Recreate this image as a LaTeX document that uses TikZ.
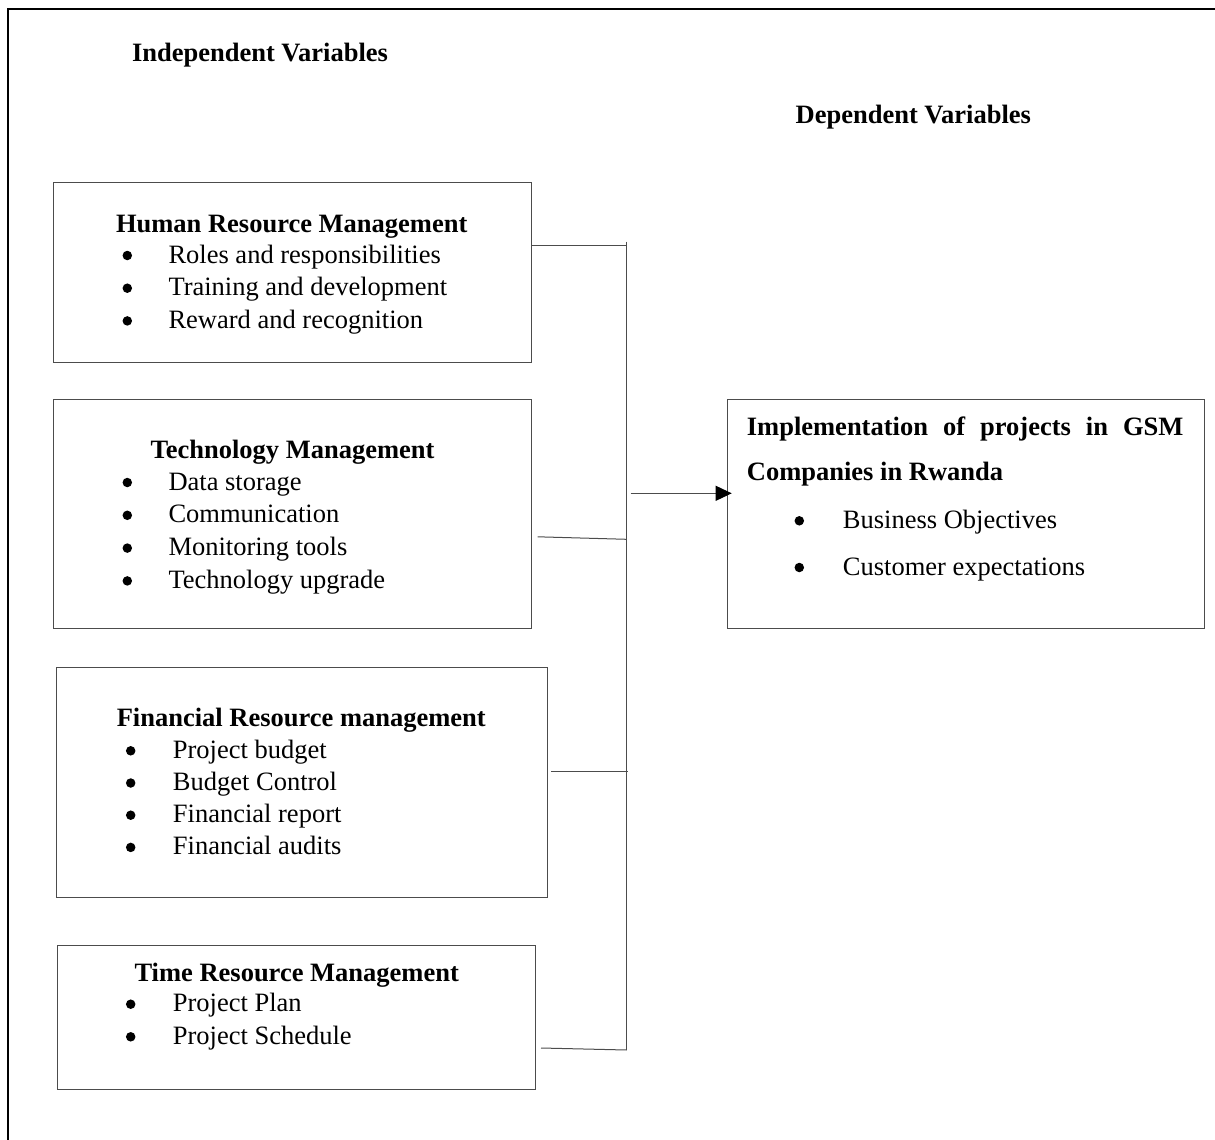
\documentclass[tikz,border=0pt]{standalone}
\usepackage{fontspec}
\setmainfont{Liberation Serif}
\usetikzlibrary{arrows.meta}

\begin{document}
\begin{tikzpicture}[x=1pt,y=-1pt,
  box/.style={draw=black!70,line width=1pt,inner sep=0pt,anchor=north west},
  txt/.style={inner sep=0pt,anchor=base west,font=\fontsize{26.5}{32}\selectfont},
  dot/.style={circle,fill=black,inner sep=0pt,minimum size=9.5pt,yshift=7.5pt},
  head/.style={inner sep=0pt,anchor=base,font=\fontsize{26.5}{32}\selectfont\bfseries},
  wire/.style={draw=black!70,line width=1pt}]
  \useasboundingbox (0,0) rectangle (1215,1140);
  % outer frame (top and left only)
  \draw[line width=2pt] (8,1140) -- (8,9) -- (1215,9);
  \node[head] (indep) at (260,62) {Independent Variables};
  \node[head] (dep) at (913.3,123.3) {Dependent Variables};

  % independent variables
  \node[box,minimum width=478pt,minimum height=180pt] (hr) at (52.7,181.7) {};
  \node[head] (hrtitle) at (291.7,232.7) {Human Resource Management};
  \foreach \lbl [count=\k] in {Roles and responsibilities,Training and development,Reward and recognition}
    {\node[dot] (hrdot\k) at (127.3,230.3+32.7*\k) {};
     \node[txt] (hritem\k) at (168.3,230.3+32.7*\k) {\lbl};}

  \node[box,minimum width=478pt,minimum height=229pt] (tech) at (52.7,399.3) {};
  \node[head] (techtitle) at (292.5,458.3) {Technology Management};
  \foreach \lbl [count=\k] in {Data storage,Communication,Monitoring tools,Technology upgrade}
    {\node[dot] (techdot\k) at (127.3,457.2+32.8*\k) {};
     \node[txt] (techitem\k) at (168.3,457.2+32.8*\k) {\lbl};}

  \node[box,minimum width=491.3pt,minimum height=230pt] (fin) at (56,667.3) {};
  \node[head] (fintitle) at (301.3,726) {Financial Resource management};
  \foreach \lbl [count=\k] in {Project budget,Budget Control,Financial report,Financial audits}
    {\node[dot] (findot\k) at (130.7,726.1+32.2*\k) {};
     \node[txt] (finitem\k) at (172.7,726.1+32.2*\k) {\lbl};}

  \node[box,minimum width=478.3pt,minimum height=144.3pt] (time) at (56.7,945) {};
  \node[head] (timetitle) at (296.7,981) {Time Resource Management};
  \foreach \lbl [count=\k] in {Project Plan,Project Schedule}
    {\node[dot] (timedot\k) at (130.7,979.1+32.6*\k) {};
     \node[txt] (timeitem\k) at (172.7,979.1+32.6*\k) {\lbl};}

  % dependent variable
  \node[box,minimum width=477.3pt,minimum height=229pt] (impl) at (726.7,399.3) {};
  \node[txt,font=\fontsize{26.5}{32}\selectfont\bfseries] (impltitle) at (746.7,435)
    {\makebox[436.6pt][s]{Implementation of projects in GSM}};
  \node[txt,font=\fontsize{26.5}{32}\selectfont\bfseries] (impltitle2) at (746.7,480) {Companies in Rwanda};
  \foreach \lbl/\yy [count=\k] in {Business Objectives/528.3,Customer expectations/575}
    {\node[dot] (impldot\k) at (799.3,\yy) {};
     \node[txt] (implitem\k) at (842.7,\yy) {\lbl};}

  % connectors
  \coordinate (bustop) at (626.7,241.7);
  \coordinate (busbot) at (626.7,1050);
  \coordinate (j1) at (626.7,245);
  \coordinate (j2) at (626.7,539.3);
  \coordinate (j3) at (627.5,771);
  \coordinate (j4) at (626.7,1050);
  \coordinate (ja) at (630.7,493.3);
  \draw[wire] (bustop) -- (busbot);
  \draw[wire] (j1 -| hr.east) -- (j1);
  \draw[wire] ([shift={(6,-2.5)}]j2 -| tech.east) -- (j2);
  \draw[wire] ([xshift=3pt]j3 -| fin.east) -- (j3);
  \draw[wire] ([shift={(5,-2)}]j4 -| time.east) -- (j4);
  \draw[wire,-{Triangle[length=16pt,width=15pt,black]}] (ja) -- ([xshift=5pt]ja -| impl.west);
\end{tikzpicture}
\end{document}
